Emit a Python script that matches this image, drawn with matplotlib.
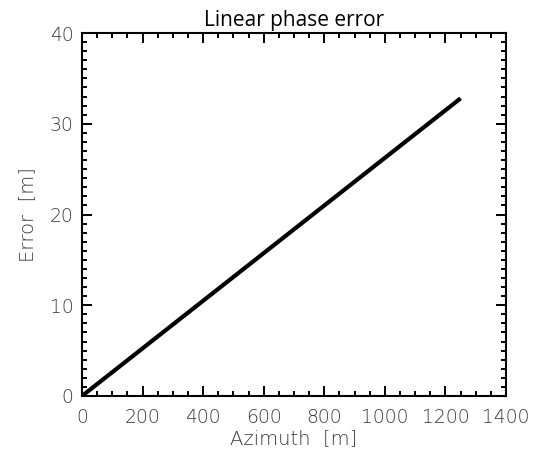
import matplotlib
matplotlib.use("Agg")
import matplotlib.pyplot as plt
from matplotlib.ticker import MultipleLocator

azimuth = [0, 1250]
error = [0, 32.8]
xticks = [0, 200, 400, 600, 800, 1000, 1200, 1400]
yticks = [0, 10, 20, 30, 40]

plt.rcParams['font.family'] = ['DejaVu Sans']
fig = plt.figure(figsize=(5.42, 4.58), dpi=100)
ax = fig.add_axes([0.1513, 0.1354, 0.7823, 0.7925])
ax.plot(azimuth, error, color='black', lw=3, solid_capstyle='butt')
ax.set_xlim(0, 1400)
ax.set_ylim(0, 40)
ax.set_xticks(xticks)
ax.set_yticks(yticks)
ax.xaxis.set_minor_locator(MultipleLocator(50))
ax.yaxis.set_minor_locator(MultipleLocator(1))
gray = '#383838'
ax.tick_params(which='both', direction='in', top=True, right=True, colors='black',
               labelcolor=gray, labelsize=13.5, width=1.4)
ax.tick_params(which='major', length=7)
ax.tick_params(which='minor', length=3.6)
ax.tick_params(axis='x', which='major', pad=9)
ax.tick_params(axis='y', which='major', pad=6)
for lab in ax.get_xticklabels() + ax.get_yticklabels():
    lab.set_fontweight('light')
for s in ax.spines.values():
    s.set_linewidth(1.5)
ax.set_title('Linear phase error', fontsize=15, color='black', pad=5,
             family=['Open Sans', 'DejaVu Sans'])
ax.set_xlabel('Azimuth  [m]', fontsize=14, color=gray, labelpad=1, fontweight='light')
ax.set_ylabel('Error  [m]', fontsize=14, color=gray, labelpad=9, fontweight='light')
fig.savefig('out.png', dpi=100)
